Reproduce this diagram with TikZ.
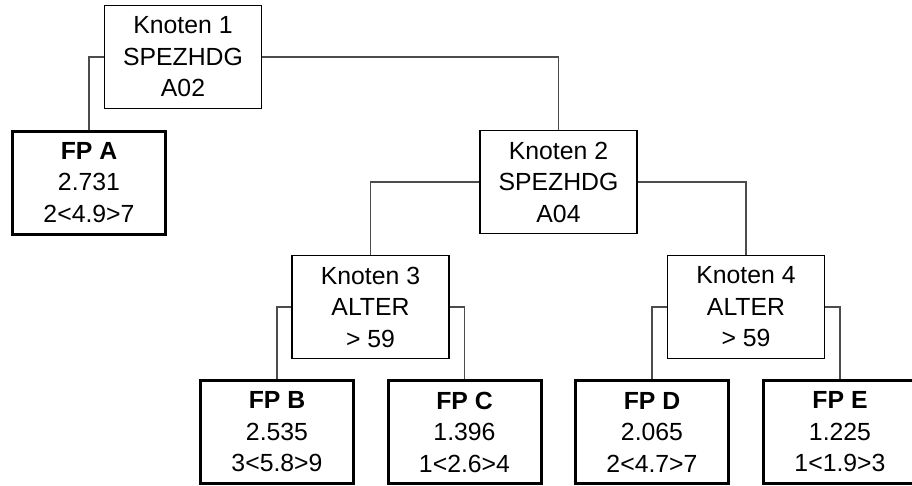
\documentclass[tikz,border=0pt]{standalone}
\usepackage{fontspec}
\setmainfont{Liberation Sans}
\begin{document}
\begin{tikzpicture}[x=1pt, y=-1pt, line join=miter,
	knoten/.style={draw, line width=1.3pt, minimum width=157pt, minimum height=103pt, inner sep=0pt, align=center, font=\fontsize{24.8}{31.5}\selectfont},
	blatt/.style={knoten, line width=3pt, minimum width=153pt},
	ast/.style={draw=black!70, line width=1.2pt}]
	\useasboundingbox (0,0) rectangle (912,485);
	
	% Entscheidungsknoten
	\node[knoten] (K1) at (183,57) {Knoten 1\\SPEZHDG\\A02};
	\node[knoten] (K2) at (558.5,182) {Knoten 2\\SPEZHDG\\A04};
	\node[knoten] (K3) at (370.5,307) {Knoten 3\\ALTER\\> 59};
	\node[knoten] (K4) at (746,307) {Knoten 4\\ALTER\\> 59};
	
	% Endknoten
	\node[blatt] (FPA) at (89,182.5) {\textbf{FP A}\\2.731\\2<4.9>7};
	\node[blatt] (FPB) at (277,432) {\textbf{FP B}\\2.535\\3<5.8>9};
	\node[blatt] (FPC) at (464.5,432) {\textbf{FP C}\\1.396\\1<2.6>4};
	\node[blatt] (FPD) at (652,432) {\textbf{FP D}\\2.065\\2<4.7>7};
	\node[blatt] (FPE) at (840,432) {\textbf{FP E}\\1.225\\1<1.9>3};
	
	% Verbindungen
	\draw[ast] (K1.west) -| (FPA.north);
	\draw[ast] (K1.east) -| (K2.north);
	\draw[ast] (K2.west) -| (K3.north);
	\draw[ast] (K2.east) -| (K4.north);
	\draw[ast] (K3.west) -| (FPB.north);
	\draw[ast] (K3.east) -| (FPC.north);
	\draw[ast] (K4.west) -| (FPD.north);
	\draw[ast] (K4.east) -| (FPE.north);
\end{tikzpicture}
\end{document}
